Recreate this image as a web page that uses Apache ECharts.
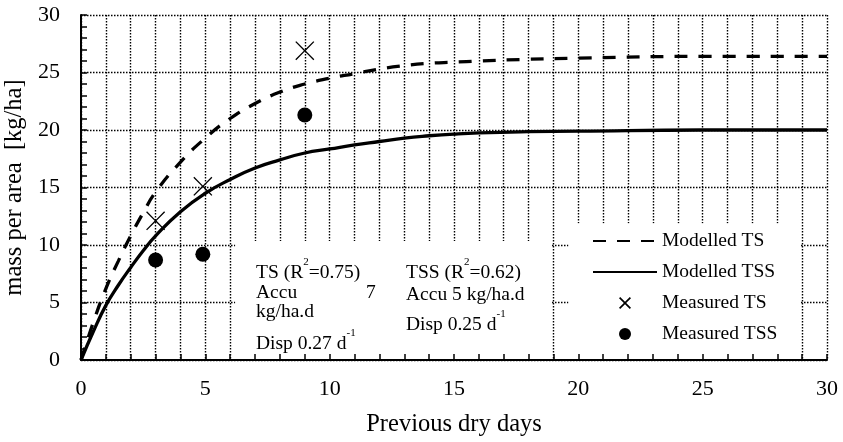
<!DOCTYPE html>
<html>
<head>
<meta charset="utf-8">
<script src="https://cdn.jsdelivr.net/npm/echarts@6/dist/echarts.min.js"></script>
<style>
  html, body { margin: 0; padding: 0; background: #fff; }
  #chart { width: 843px; height: 442px; }
</style>
</head>
<body>
<div id="chart"></div>
<script>
// days for the model curves
var days = [0, 0.5, 1, 1.5, 2, 2.5, 3, 4, 5, 6, 7, 8, 9, 10, 11, 12, 13, 14, 15, 16, 18, 20, 25, 30];
var modelTS = [0, 3.3, 6.2, 8.6, 10.8, 12.8, 14.6, 17.2, 19.3, 21.0, 22.3, 23.3, 24.0, 24.5, 24.9, 25.3, 25.6, 25.8, 25.9, 26.0, 26.15, 26.25, 26.4, 26.4];
var modelTSS = [0, 2.5, 4.75, 6.5, 8.05, 9.5, 10.8, 12.9, 14.5, 15.7, 16.7, 17.4, 18.0, 18.35, 18.7, 19.0, 19.3, 19.5, 19.65, 19.75, 19.85, 19.9, 20.0, 20.0];

// measured points
var measuredDays = [3, 4.9, 9];
var measuredTS = [12.1, 15.1, 26.9];
var measuredTSS = [8.7, 9.2, 21.3];

var xTicks = [0, 5, 10, 15, 20, 25, 30];
var yTicks = [0, 5, 10, 15, 20, 25, 30];

var FONT = 'Liberation Serif';
var crossPath = 'path://M0,1L1,0L10,9L19,0L20,1L11,10L20,19L19,20L10,11L1,20L0,19L9,10Z';
var crossPathBold = 'path://M0,2L2,0L10,8L18,0L20,2L12,10L20,18L18,20L10,12L2,20L0,18L8,10Z';

function pairs(xs, ys) {
  var out = [];
  for (var i = 0; i < xs.length; i++) out.push([xs[i], ys[i]]);
  return out;
}

// annotation text, baseline = y of text baseline
function note(x, baseline, text) {
  return {
    type: 'text',
    x: x,
    y: baseline + 4 - 26,
    z: 20,
    style: {
      text: text,
      verticalAlign: 'top',
      fill: '#000',
      rich: {
        m: { fontFamily: FONT, fontSize: 19.5, lineHeight: 26, verticalAlign: 'bottom', fill: '#000' },
        s: { fontFamily: FONT, fontSize: 11, lineHeight: 11, verticalAlign: 'top', fill: '#000' }
      }
    }
  };
}

var chart = echarts.init(document.getElementById('chart'));

var gridLine = { color: '#000', width: 1.4, type: [1.5, 1.5] };

var option = {
  animation: false,
  grid: { left: 81, right: 16, top: 15, bottom: 82, containLabel: false, outerBoundsMode: 'none' },
  xAxis: [{
    type: 'value', position: 'bottom', min: 0, max: 30, interval: 1, z: 0,
    axisLine: { show: false }, axisTick: { show: false }, axisLabel: { show: false },
    splitLine: { show: true, lineStyle: gridLine }
  }, {
    type: 'value', position: 'bottom', min: 0, max: 30, interval: 1, z: 10,
    name: 'Previous dry days', nameLocation: 'middle', nameGap: 52,
    nameTextStyle: { fontFamily: FONT, fontSize: 24.5, color: '#000' },
    axisLine: { show: true, onZero: false, lineStyle: { color: '#000', width: 2 } },
    axisTick: { show: true, inside: true, length: 6, lineStyle: { color: '#000', width: 1.5 } },
    axisLabel: {
      fontFamily: FONT, fontSize: 22, color: '#000', margin: 18,
      formatter: function(v) { return xTicks.indexOf(v) >= 0 ? String(v) : ''; }
    },
    splitLine: { show: false }
  }],
  yAxis: [{
    type: 'value', position: 'left', min: 0, max: 30, interval: 5, z: 0,
    axisLine: { show: false }, axisTick: { show: false }, axisLabel: { show: false },
    splitLine: { show: true, lineStyle: gridLine }
  }, {
    type: 'value', position: 'left', min: 0, max: 30, interval: 1, z: 10,
    name: 'mass per area  [kg/ha]', nameLocation: 'middle', nameGap: 50,
    nameTextStyle: { fontFamily: FONT, fontSize: 24.5, color: '#000' },
    axisLine: { show: true, onZero: false, lineStyle: { color: '#000', width: 2 } },
    axisTick: { show: true, inside: true, length: 6, lineStyle: { color: '#000', width: 1.5 } },
    axisLabel: {
      fontFamily: FONT, fontSize: 22, color: '#000', margin: 21,
      formatter: function(v) { return yTicks.indexOf(v) >= 0 ? String(v) : ''; }
    },
    splitLine: { show: false }
  }],
  legend: {
    orient: 'vertical',
    left: 587,
    top: 226,
    itemWidth: 64,
    itemHeight: 12,
    itemGap: 11,
    textStyle: { fontFamily: FONT, fontSize: 19.5, color: '#000' },
    data: [
      { name: 'Modelled TS', itemStyle: { opacity: 0 } },
      { name: 'Modelled TSS', itemStyle: { opacity: 0 } },
      { name: 'Measured TS', icon: crossPathBold },
      { name: 'Measured TSS', icon: 'circle' }
    ]
  },
  series: [{
    // white boxes behind the notes and the legend
    name: 'boxes', type: 'line', data: [], z: 1, silent: true,
    markArea: {
      silent: true,
      itemStyle: { color: '#fff', opacity: 1 },
      label: { show: false },
      data: [
        [{ coord: [6.2, 0] }, { coord: [18.9, 10.35] }],
        [{ coord: [19.6, 0] }, { coord: [28.93, 11.9] }]
      ]
    }
  }, {
    name: 'Modelled TS', type: 'line', z: 3, symbol: 'none', smooth: 0.5,
    data: pairs(days, modelTS),
    lineStyle: { color: '#000', width: 3.3, type: [13, 11] },
    itemStyle: { color: '#000' }
  }, {
    name: 'Modelled TSS', type: 'line', z: 3, symbol: 'none', smooth: 0.5,
    data: pairs(days, modelTSS),
    lineStyle: { color: '#000', width: 3.3, type: 'solid' },
    itemStyle: { color: '#000' }
  }, {
    name: 'Measured TS', type: 'scatter', z: 4, symbol: crossPath, symbolSize: 19,
    data: pairs(measuredDays, measuredTS),
    itemStyle: { color: '#000', opacity: 1 }
  }, {
    name: 'Measured TSS', type: 'scatter', z: 4, symbol: 'circle', symbolSize: 15,
    data: pairs(measuredDays, measuredTSS),
    itemStyle: { color: '#000', opacity: 1 }
  }],
  graphic: [
    note(256, 279, '{m|TS (R}{s|2}{m|=0.75)}'),
    note(256, 299, '{m|Accu}'),
    note(366, 299, '{m|7}'),
    note(256, 318, '{m|kg/ha.d}'),
    note(256, 350, '{m|Disp 0.27 d}{s|-1}'),
    note(406, 279, '{m|TSS (R}{s|2}{m|=0.62)}'),
    note(406, 301, '{m|Accu 5 kg/ha.d}'),
    note(406, 331, '{m|Disp 0.25 d}{s|-1}')
  ]
};

chart.setOption(option);
</script>
</body>
</html>
